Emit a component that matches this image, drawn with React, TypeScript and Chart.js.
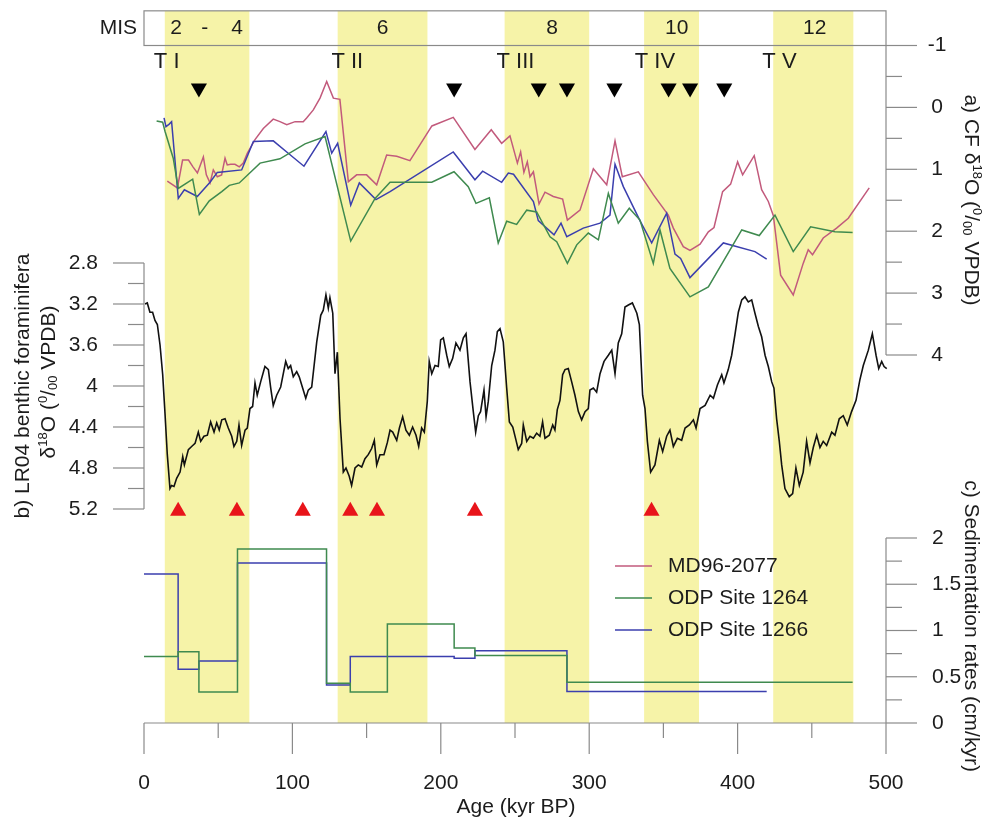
import React, { useEffect, useRef } from 'react';
import { Chart, registerables } from 'chart.js';

Chart.register(...registerables);

// ---------------- data ----------------
// a) CF d18O, MD96-2077
const mdAge = [15.7, 22.5, 26, 30, 33, 36, 40, 42, 44.5, 46.7, 49.4, 52.3, 54.6, 56.1, 58.4, 61.3, 64.2, 66.9, 69.6, 74.8, 80.4, 87.1, 91.6, 96.2, 101.8, 107.3, 109.6, 114.1, 118.6, 123.1, 127.6, 132, 137.7, 143.3, 150, 156.8, 163.5, 170.3, 179.2, 194, 208.4, 223, 234, 241, 246.6, 251.6, 253.8, 256, 258.3, 260.1, 262.4, 266.2, 270.2, 275.8, 282.1, 285.3, 293.8, 302.8, 311.8, 317.4, 322.3, 333.1, 343.2, 353.3, 356.7, 363.4, 367.9, 374.7, 380.3, 384.1, 389.9, 395.3, 400, 403.4, 411.2, 416.2, 420.7, 424.1, 429, 437.5, 444.2, 447.6, 450.5, 457.7, 466.7, 474.6, 488.7];
const mdVal = [1.19, 1.30, 0.85, 0.85, 0.96, 1.06, 0.80, 1.09, 1.22, 1.01, 1.12, 1.09, 0.82, 0.93, 0.92, 0.92, 0.96, 0.90, 0.74, 0.52, 0.34, 0.19, 0.23, 0.28, 0.23, 0.23, 0.17, 0.04, -0.15, -0.42, -0.15, -0.13, 1.20, 1.09, 1.09, 1.25, 0.77, 0.79, 0.86, 0.30, 0.16, 0.68, 0.36, 0.58, 0.46, 0.90, 0.72, 1.05, 0.88, 1.12, 1.04, 1.56, 1.37, 1.44, 1.48, 1.82, 1.66, 0.99, 1.25, 0.54, 1.12, 1.04, 1.41, 1.74, 1.95, 2.25, 2.31, 2.21, 2.01, 1.94, 1.36, 1.24, 0.88, 1.09, 0.78, 1.33, 1.52, 1.75, 2.71, 3.03, 2.52, 2.30, 2.38, 2.11, 1.95, 1.79, 1.30];

// a) CF d18O, ODP Site 1264
const s1264Age = [8.5, 12.6, 14.2, 19.7, 23.1, 32.8, 37.3, 44, 52.4, 57.5, 64.2, 78.2, 91.6, 108.5, 122, 139.3, 155.7, 165.8, 193.9, 208.9, 218.5, 223.7, 232.7, 238.7, 244.4, 251.1, 257.9, 264.6, 273.6, 278.1, 285.3, 291.6, 299.4, 306.2, 312.9, 319.6, 327, 334.2, 343.2, 347.7, 354.4, 367.9, 380.3, 402.8, 414.6, 425.2, 437.5, 449.2, 465.6, 477.5];
const s1264Val = [0.22, 0.24, 0.39, 0.82, 1.31, 1.16, 1.73, 1.51, 1.36, 1.26, 1.22, 0.90, 0.83, 0.59, 0.47, 2.16, 1.47, 1.21, 1.21, 1.04, 1.28, 1.55, 1.46, 2.19, 1.84, 1.89, 1.66, 1.69, 2.09, 2.17, 2.52, 2.22, 2.03, 2.14, 1.39, 1.87, 1.63, 1.82, 2.52, 1.98, 2.60, 3.06, 2.90, 1.98, 2.07, 1.74, 2.33, 1.93, 2.01, 2.02];

// a) CF d18O, ODP Site 1266
const s1266Age = [13.5, 14.8, 17, 18.6, 23.1, 27.2, 35.9, 44.5, 49.4, 65.8, 73.7, 87.1, 97.2, 107.8, 122.6, 126.5, 130.5, 139.3, 145.1, 156.3, 165.8, 208.4, 223, 228.2, 241, 245.5, 249, 262.4, 265.7, 276.3, 281, 284.9, 296, 307.3, 314, 317.4, 323, 334.2, 342.1, 352.2, 357.8, 361.6, 367.9, 390.4, 411.7, 419.6];
const s1266Val = [0.17, 0.31, 0.27, 0.23, 1.47, 1.33, 1.44, 1.21, 1.05, 1.01, 0.55, 0.54, 0.74, 0.95, 0.39, 0.74, 0.58, 1.58, 1.22, 1.49, 1.36, 0.72, 1.17, 1.03, 1.21, 1.06, 1.08, 1.52, 1.83, 2.06, 1.87, 2.09, 1.95, 1.87, 1.74, 0.92, 1.28, 1.83, 2.19, 1.71, 2.37, 2.44, 2.75, 2.19, 2.33, 2.45];

// b) LR04 benthic stack
const lrAge = [0.7, 2.2, 4, 5.8, 7.4, 9, 10.8, 12.6, 14.2, 15.7, 17.5, 18.6, 20.2, 22, 24.3, 26.1, 27.2, 29.9, 32.1, 34.4, 36.6, 38.2, 40.4, 42.7, 44.9, 47.2, 49, 50.7, 52.4, 54.6, 56.8, 59.1, 60.6, 62.5, 64, 65.8, 68.1, 69.6, 71.4, 73.2, 74.8, 76.3, 78.6, 81.5, 83.8, 85.4, 87.1, 89.4, 92.1, 95.5, 97.2, 98.8, 100.6, 102.9, 104.6, 106.9, 109, 110.7, 113, 116.4, 119.1, 120.8, 122.6, 124.2, 125.3, 127.2, 128.7, 130.3, 132.1, 134.3, 136.1, 138.3, 139.9, 142.2, 144.4, 146.7, 148.9, 151.1, 153.4, 155.2, 156.8, 159, 161.7, 164, 165.8, 167.6, 170.3, 172.1, 174.3, 176.5, 178.8, 181, 183.3, 185.1, 187.1, 188.9, 190.9, 192.2, 193.9, 196.1, 198.3, 199.9, 201.7, 204, 205.7, 208, 210.2, 212.9, 215.2, 217, 219.7, 221.9, 223.5, 225.3, 226.8, 229.1, 230.5, 232, 234.3, 236.5, 238.1, 239.9, 242.1, 244.4, 246.2, 248.5, 250.7, 252.2, 254.5, 255.6, 257.9, 260.1, 262.4, 264.6, 266.8, 268.6, 270.2, 273.1, 275.4, 276.9, 278.5, 280.3, 282.1, 283.7, 285.9, 288.2, 290.4, 292.7, 294.9, 297.2, 299.4, 300.5, 302.8, 305, 307.3, 310, 312.9, 315.2, 317.4, 319.6, 321.9, 324.1, 326.4, 329.1, 332.1, 333.8, 336, 337.6, 339.2, 341.4, 344.3, 347.3, 349.5, 352.2, 354.4, 356.7, 359.4, 362.3, 364.6, 367.5, 370.2, 372, 374.7, 378.1, 381.5, 383.7, 386.4, 389.3, 390.8, 393.7, 396, 398.2, 400.5, 402.8, 405, 407.2, 409.5, 411.7, 414, 416.2, 418.5, 420.7, 423, 424.5, 426.3, 428.1, 429.7, 431.9, 434.8, 437.1, 439.3, 441.6, 444.2, 446.5, 448.8, 451, 453.3, 455.5, 457.7, 460, 463.4, 465.6, 468.5, 471.2, 473.9, 476.8, 479.8, 482.4, 484.7, 488.1, 490.8, 493.3, 495.1, 497.1, 498.7, 500.5];
const lrVal = [3.20, 3.19, 3.28, 3.28, 3.36, 3.40, 3.60, 3.89, 4.28, 4.67, 5.00, 4.97, 4.98, 4.90, 4.84, 4.69, 4.77, 4.62, 4.59, 4.56, 4.45, 4.54, 4.49, 4.48, 4.35, 4.45, 4.36, 4.43, 4.33, 4.32, 4.41, 4.49, 4.59, 4.54, 4.38, 4.58, 4.43, 4.41, 4.22, 4.20, 3.97, 4.09, 3.96, 3.81, 3.84, 4.02, 4.19, 4.09, 4.01, 3.76, 3.83, 3.80, 3.91, 3.86, 3.91, 4.02, 4.12, 4.04, 4.01, 3.57, 3.31, 3.26, 3.11, 3.24, 3.14, 3.29, 3.88, 3.67, 4.32, 4.84, 4.80, 4.88, 4.97, 4.80, 4.77, 4.79, 4.71, 4.67, 4.61, 4.53, 4.77, 4.67, 4.67, 4.55, 4.43, 4.45, 4.53, 4.41, 4.30, 4.43, 4.48, 4.40, 4.48, 4.59, 4.41, 4.45, 4.15, 3.76, 3.88, 3.80, 3.81, 3.55, 3.53, 3.70, 3.81, 3.73, 3.58, 3.65, 3.53, 3.49, 3.96, 4.25, 4.45, 4.29, 4.25, 4.04, 4.30, 4.15, 3.80, 3.65, 3.47, 3.44, 3.57, 4.02, 4.35, 4.40, 4.53, 4.62, 4.56, 4.38, 4.54, 4.49, 4.51, 4.46, 4.49, 4.35, 4.51, 4.48, 4.38, 4.43, 4.23, 4.14, 3.89, 3.84, 3.83, 3.96, 4.09, 4.25, 4.33, 4.25, 4.22, 4.04, 4.02, 4.06, 3.88, 3.76, 3.70, 3.65, 3.88, 3.58, 3.49, 3.23, 3.21, 3.19, 3.29, 3.40, 4.09, 4.22, 4.54, 4.84, 4.77, 4.53, 4.64, 4.49, 4.43, 4.59, 4.51, 4.53, 4.41, 4.38, 4.33, 4.41, 4.22, 4.19, 4.09, 4.12, 3.99, 3.89, 3.97, 3.84, 3.70, 3.50, 3.28, 3.16, 3.13, 3.18, 3.16, 3.29, 3.42, 3.52, 3.70, 3.81, 3.96, 4.02, 4.32, 4.54, 4.77, 5.00, 5.08, 5.05, 4.80, 4.97, 4.84, 4.54, 4.75, 4.60, 4.48, 4.60, 4.54, 4.58, 4.45, 4.48, 4.32, 4.29, 4.38, 4.25, 4.14, 3.94, 3.80, 3.65, 3.49, 3.70, 3.83, 3.76, 3.81, 3.83];

// c) Sedimentation rates (step functions: value holds from this age to the next)
const sed1264Age = [0, 23, 37, 63, 123, 139, 164, 209, 223, 285, 477.5];
const sed1264Val = [0.72, 0.77, 0.335, 1.88, 0.43, 0.335, 1.07, 0.81, 0.73, 0.44, 0.44];
const sed1266Age = [0, 23, 37, 63, 123, 139, 209, 223, 285, 419.6];
const sed1266Val = [1.61, 0.58, 0.67, 1.73, 0.41, 0.72, 0.70, 0.78, 0.34, 0.34];

// markers
const blackTriAge = [37, 209, 266, 285, 317, 353.5, 368, 391];
const blackTriVal = -0.31; // on CF d18O axis
const redTriAge = [23, 62.6, 107, 139, 157, 223, 342];
const redTriVal = 5.22; // on LR04 axis

// glacial stages (yellow bands) and labels
const bandStart = [14, 130.5, 243, 337, 424];
const bandEnd = [71, 191, 300, 374, 478];
const misLabels = ['2', '-', '4', '6', '8', '10', '12'];
const misAges = [21.6, 41, 62.7, 160.8, 275, 359, 452];
const termLabels = ['T I', 'T II', 'T III', 'T IV', 'T V'];
const termAges = [15.3, 137, 250.3, 344.3, 428.2];
const termVal = -0.735;
const misTopVal = -1.56;

// ticks
const xMajor = [0, 100, 200, 300, 400, 500];
const xMinor = [50, 150, 250, 350, 450];
const aMajor = [-1, 0, 1, 2, 3, 4];
const aMinor = [-0.5, 0.5, 1.5, 2.5, 3.5];
const bMajor = [2.8, 3.2, 3.6, 4, 4.4, 4.8, 5.2];
const bMinor = [3.0, 3.4, 3.8, 4.2, 4.6, 5.0];
const cMajor = [0, 0.5, 1, 1.5, 2];
const cMinor = [0.25, 0.75, 1.25, 1.75];

const seriesLabels = ['MD96-2077', 'ODP Site 1264', 'ODP Site 1266'];

// ---------------- styling ----------------
const W = 992;
const H = 819;
const FONT = '"Liberation Sans", Arial, Helvetica, sans-serif';
const TEXT = '#1c1c1c';
const AXIS = '#8a8a8a';
const BAND = 'rgb(246, 243, 168)';
const PINK = '#c25a7c';
const GREEN = '#3f8a4f';
const BLUE = '#3b3fae';
const FS = 21;

function axisRange(v0: number, p0: number, v1: number, p1: number) {
  const b = (p1 - p0) / (v1 - v0);
  const a = p0 - b * v0;
  const vTop = (0 - a) / b;
  const vBot = (H - a) / b;
  return { min: Math.min(vTop, vBot), max: Math.max(vTop, vBot), reverse: b > 0 };
}

const rA = axisRange(-1, 45.5, 4, 355);
const rB = axisRange(2.8, 263, 5.2, 509);
const rC = axisRange(0, 723, 2, 538);

const xy = (ages: number[], vals: number[]) => ages.map((a, i) => ({ x: a, y: vals[i] }));

type Seg = { t: string; sup?: boolean; sub?: boolean };

function drawRich(ctx: CanvasRenderingContext2D, segs: Seg[], x: number, y: number, size: number, align: 'center' | 'left' | 'right') {
  const small = Math.round(size * 0.62);
  const fN = `${size}px ${FONT}`;
  const fS = `${small}px ${FONT}`;
  let total = 0;
  const widths = segs.map((s) => {
    ctx.font = s.sup || s.sub ? fS : fN;
    const w = ctx.measureText(s.t).width;
    total += w;
    return w;
  });
  let cx = align === 'center' ? x - total / 2 : align === 'right' ? x - total : x;
  ctx.textAlign = 'left';
  ctx.textBaseline = 'middle';
  segs.forEach((s, i) => {
    ctx.font = s.sup || s.sub ? fS : fN;
    const dy = s.sup ? -size * 0.28 : s.sub ? size * 0.2 : 0;
    ctx.fillText(s.t, cx, y + dy);
    cx += widths[i];
  });
}

const d18O: Seg[] = [{ t: 'δ' }, { t: '18', sup: true }, { t: 'O (' }, { t: '0', sup: true }, { t: '/' }, { t: '00', sub: true }, { t: ' VPDB)' }];

const overlay = {
  id: 'overlay',
  beforeDatasetsDraw(chart: any) {
    const { ctx, scales } = chart;
    const x = scales.x;
    const top = scales.yA.getPixelForValue(misTopVal);
    const bot = scales.yC.getPixelForValue(0);
    ctx.save();
    ctx.fillStyle = BAND;
    bandStart.forEach((s, i) => {
      const x0 = x.getPixelForValue(s);
      const x1 = x.getPixelForValue(bandEnd[i]);
      ctx.fillRect(x0, top, x1 - x0, bot - top);
    });
    ctx.restore();
  },
  afterDatasetsDraw(chart: any) {
    const { ctx, scales } = chart;
    const x = scales.x, yA = scales.yA, yB = scales.yB, yC = scales.yC;
    const xl = x.getPixelForValue(0);
    const xr = x.getPixelForValue(500);
    ctx.save();
    ctx.strokeStyle = AXIS;
    ctx.lineWidth = 1.2;
    const line = (x1: number, y1: number, x2: number, y2: number) => {
      ctx.beginPath();
      ctx.moveTo(x1, y1);
      ctx.lineTo(x2, y2);
      ctx.stroke();
    };
    // MIS box
    const boxTop = yA.getPixelForValue(misTopVal);
    const boxBot = yA.getPixelForValue(-1);
    ctx.strokeRect(xl, boxTop, xr - xl, boxBot - boxTop);
    // axis a (right, top)
    line(xr, boxBot, xr, yA.getPixelForValue(4));
    aMajor.forEach((v) => { const p = yA.getPixelForValue(v); line(xr, p, xr + 31, p); });
    aMinor.forEach((v) => { const p = yA.getPixelForValue(v); line(xr, p, xr + 16, p); });
    // axis b (left)
    line(xl, yB.getPixelForValue(2.8), xl, yB.getPixelForValue(5.2));
    bMajor.forEach((v) => { const p = yB.getPixelForValue(v); line(xl, p, xl - 31, p); });
    bMinor.forEach((v) => { const p = yB.getPixelForValue(v); line(xl, p, xl - 16, p); });
    // axis c (right, bottom)
    line(xr, yC.getPixelForValue(2), xr, yC.getPixelForValue(0));
    cMajor.forEach((v) => { const p = yC.getPixelForValue(v); line(xr, p, xr + 31, p); });
    cMinor.forEach((v) => { const p = yC.getPixelForValue(v); line(xr, p, xr + 16, p); });
    // x axis
    const base = yC.getPixelForValue(0);
    line(xl, base, xr, base);
    xMajor.forEach((v) => { const p = x.getPixelForValue(v); line(p, base, p, base + 31); });
    xMinor.forEach((v) => { const p = x.getPixelForValue(v); line(p, base, p, base + 15); });

    // tick labels
    ctx.fillStyle = TEXT;
    ctx.font = `${FS}px ${FONT}`;
    ctx.textBaseline = 'middle';
    ctx.textAlign = 'center';
    xMajor.forEach((v) => ctx.fillText(String(v), x.getPixelForValue(v), base + 60));
    aMajor.forEach((v) => ctx.fillText(String(v), xr + 51, yA.getPixelForValue(v)));
    ctx.textAlign = 'right';
    bMajor.forEach((v) => ctx.fillText(String(v), xl - 46, yB.getPixelForValue(v)));
    ctx.textAlign = 'left';
    cMajor.forEach((v) => ctx.fillText(String(v), xr + 46, yC.getPixelForValue(v)));

    // MIS labels
    const misY = (boxTop + boxBot) / 2;
    ctx.textAlign = 'right';
    ctx.fillText('MIS', xl - 7, misY);
    ctx.textAlign = 'center';
    misLabels.forEach((l, i) => ctx.fillText(l, x.getPixelForValue(misAges[i]), misY));
    // terminations
    ctx.font = `22px ${FONT}`;
    termLabels.forEach((l, i) => ctx.fillText(l, x.getPixelForValue(termAges[i]), yA.getPixelForValue(termVal)));

    // axis titles
    ctx.font = `${FS}px ${FONT}`;
    ctx.fillText('Age (kyr BP)', (xl + xr) / 2 + 1, base + 84);

    ctx.save();
    ctx.translate(23, 386);
    ctx.rotate(-Math.PI / 2);
    drawRich(ctx, [{ t: 'b) LR04 benthic foraminifera' }], 0, 0, FS, 'center');
    ctx.restore();
    ctx.save();
    ctx.translate(49, 382);
    ctx.rotate(-Math.PI / 2);
    drawRich(ctx, d18O, 0, 0, FS, 'center');
    ctx.restore();

    ctx.save();
    ctx.translate(971, 200);
    ctx.rotate(Math.PI / 2);
    drawRich(ctx, [{ t: 'a) CF ' }, ...d18O], 0, 0, FS, 'center');
    ctx.restore();
    ctx.save();
    ctx.translate(971, 626);
    ctx.rotate(Math.PI / 2);
    drawRich(ctx, [{ t: 'c) Sedimentation rates (cm/kyr)' }], 0, 0, FS, 'center');
    ctx.restore();

    // legend
    const colors = [PINK, GREEN, BLUE];
    const lx = xl + 471;
    seriesLabels.forEach((l, i) => {
      const ly = 566 + i * 32;
      ctx.strokeStyle = colors[i];
      ctx.lineWidth = 1.5;
      line(lx, ly, lx + 37, ly);
      ctx.fillStyle = TEXT;
      ctx.textAlign = 'left';
      ctx.font = `${FS}px ${FONT}`;
      ctx.fillText(l, lx + 53, ly);
    });
    ctx.restore();
  },
};

export default function App() {
  const ref = useRef<HTMLCanvasElement | null>(null);
  useEffect(() => {
    if (!ref.current) return;
    const lineDs = (label: string, data: any[], color: string, axis: string, width: number, extra: any = {}) => ({
      label, data, borderColor: color, backgroundColor: color, borderWidth: width,
      pointRadius: 0, tension: 0, yAxisID: axis, fill: false, clip: false, ...extra,
    });
    const chart = new Chart(ref.current, {
      type: 'line',
      data: {
        datasets: [
          lineDs('ODP Site 1264 sed', xy(sed1264Age, sed1264Val), GREEN, 'yC', 1.5, { stepped: 'before' }),
          lineDs('ODP Site 1266 sed', xy(sed1266Age, sed1266Val), BLUE, 'yC', 1.5, { stepped: 'before' }),
          lineDs('LR04', xy(lrAge, lrVal), '#111111', 'yB', 1.6),
          lineDs(seriesLabels[1], xy(s1264Age, s1264Val), GREEN, 'yA', 1.5),
          lineDs(seriesLabels[2], xy(s1266Age, s1266Val), BLUE, 'yA', 1.5),
          lineDs(seriesLabels[0], xy(mdAge, mdVal), PINK, 'yA', 1.5),
          {
            type: 'scatter', label: 'black', data: blackTriAge.map((a) => ({ x: a, y: blackTriVal })),
            yAxisID: 'yA', pointStyle: 'triangle', rotation: 180, pointRadius: 9.3,
            backgroundColor: '#000000', borderColor: '#000000', borderWidth: 0, showLine: false, clip: false,
          } as any,
          {
            type: 'scatter', label: 'red', data: redTriAge.map((a) => ({ x: a, y: redTriVal })),
            yAxisID: 'yB', pointStyle: 'triangle', pointRadius: 9.3,
            backgroundColor: '#e8141a', borderColor: '#e8141a', borderWidth: 0, showLine: false, clip: false,
          } as any,
        ],
      },
      options: {
        responsive: false,
        animation: false,
        devicePixelRatio: 1,
        events: [],
        layout: { autoPadding: false, padding: { left: 144, right: W - 886, top: 0, bottom: 0 } },
        plugins: { legend: { display: false }, tooltip: { enabled: false } },
        scales: {
          x: { type: 'linear', display: false, min: 0, max: 500, bounds: 'data' },
          yA: { type: 'linear', display: false, min: rA.min, max: rA.max, reverse: rA.reverse, bounds: 'data' },
          yB: { type: 'linear', display: false, min: rB.min, max: rB.max, reverse: rB.reverse, bounds: 'data' },
          yC: { type: 'linear', display: false, min: rC.min, max: rC.max, reverse: rC.reverse, bounds: 'data' },
        },
      } as any,
      plugins: [overlay],
    });
    return () => chart.destroy();
  }, []);
  return (
    <div style={{ position: 'absolute', left: 0, top: 0, width: W, height: H, background: '#ffffff' }}>
      <canvas ref={ref} width={W} height={H} style={{ display: 'block', width: W, height: H }} />
    </div>
  );
}
